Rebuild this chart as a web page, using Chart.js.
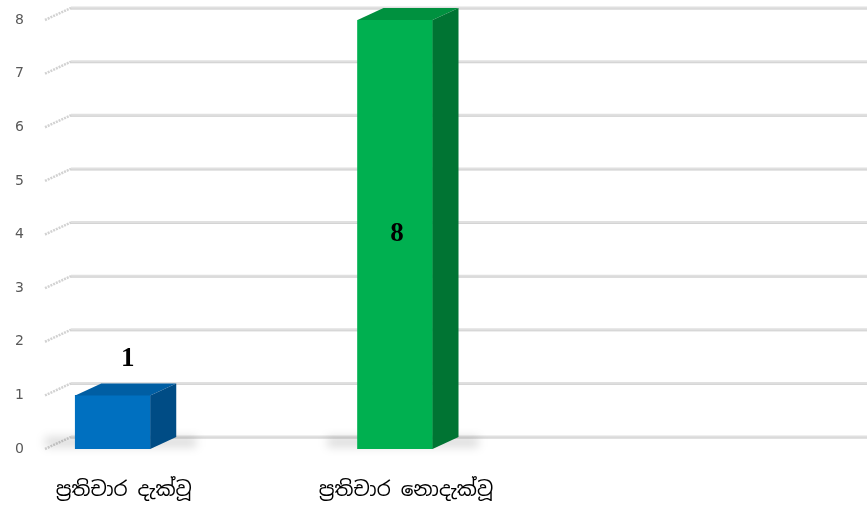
<!DOCTYPE html>
<html>
<head>
<meta charset="utf-8">
<title>ප්‍රතිචාර</title>
<script src="https://cdn.jsdelivr.net/npm/chart.js@4/dist/chart.umd.min.js"></script>
<style>
  html, body { margin: 0; padding: 0; background: #fff; }
  #wrap { width: 867px; height: 507px; }
</style>
</head>
<body>
<div id="wrap"><canvas id="responseChart"></canvas></div>
<script>
// categories and counts
const categories = ["ප්‍රතිචාර දැක්වූ", "ප්‍රතිචාර නොදැක්වූ"];
const counts = [1, 8];
const yTicks = [0, 1, 2, 3, 4, 5, 6, 7, 8];

// face colours for each bar: front, top, side
const frontColors = ["#0070c0", "#00b050"];
const topColors = ["#005ea3", "#00913f"];
const sideColors = ["#004c85", "#007433"];

// depth of the fake 3D box
const DX = 26;
const DY = -12;

// x range so the two columns sit on the left part of the floor
const X_MIN = -0.24;
const X_MAX = 2.58;

// back wall grid, diagonal floor lines and soft shadows under the bars
const backGrid = {
  id: "backGrid",
  beforeDatasetsDraw(chart) {
    const ctx = chart.ctx;
    const area = chart.chartArea;
    const yScale = chart.scales.y;
    ctx.save();
    yTicks.forEach(v => {
      const y = yScale.getPixelForValue(v);
      // back line
      ctx.strokeStyle = "#e0e0e0";
      ctx.lineWidth = 3;
      ctx.beginPath();
      ctx.moveTo(area.left + DX, y + DY);
      ctx.lineTo(chart.width, y + DY);
      ctx.stroke();
      ctx.strokeStyle = "#d4d4d4";
      ctx.lineWidth = 1;
      ctx.beginPath();
      ctx.moveTo(area.left + DX, y + DY + 1);
      ctx.lineTo(chart.width, y + DY + 1);
      ctx.stroke();
      // diagonal on the side wall
      ctx.strokeStyle = "#d2d2d2";
      ctx.lineWidth = 2.5;
      ctx.setLineDash([2, 1]);
      ctx.beginPath();
      ctx.moveTo(area.left, y);
      ctx.lineTo(area.left + DX, y + DY);
      ctx.stroke();
      ctx.setLineDash([]);
    });

    // floor shadows
    const meta = chart.getDatasetMeta(0);
    ctx.filter = "blur(5px)";
    ctx.fillStyle = "rgba(0,0,0,0.14)";
    meta.data.forEach(bar => {
      const left = bar.x - bar.width / 2;
      const right = bar.x + bar.width / 2;
      const base = bar.base;
      ctx.beginPath();
      ctx.moveTo(left - 30, base - 2);
      ctx.lineTo(right + DX + 20, base - 2);
      ctx.lineTo(right + DX + 20, base + DY);
      ctx.lineTo(left - 30, base + DY);
      ctx.closePath();
      ctx.fill();
    });
    ctx.filter = "none";
    ctx.restore();
  }
};

// top and side faces plus the value labels
const boxFaces = {
  id: "boxFaces",
  afterDatasetsDraw(chart) {
    const ctx = chart.ctx;
    const meta = chart.getDatasetMeta(0);
    ctx.save();
    meta.data.forEach((bar, i) => {
      const left = bar.x - bar.width / 2;
      const right = bar.x + bar.width / 2;
      const top = bar.y;
      const base = bar.base;

      // top face
      ctx.fillStyle = topColors[i];
      ctx.beginPath();
      ctx.moveTo(left, top);
      ctx.lineTo(left + DX, top + DY);
      ctx.lineTo(right + DX, top + DY);
      ctx.lineTo(right, top);
      ctx.closePath();
      ctx.fill();

      // side face
      ctx.fillStyle = sideColors[i];
      ctx.beginPath();
      ctx.moveTo(right, top);
      ctx.lineTo(right + DX, top + DY);
      ctx.lineTo(right + DX, base + DY);
      ctx.lineTo(right, base);
      ctx.closePath();
      ctx.fill();

      // value label: inside tall bars, above short ones
      ctx.fillStyle = "#000";
      ctx.font = "bold 27px 'Liberation Serif', 'Times New Roman', serif";
      ctx.textAlign = "center";
      ctx.textBaseline = "middle";
      const value = counts[i];
      if (base - top > 80) {
        ctx.fillText(String(value), bar.x + 2, (top + base) / 2);
      } else {
        ctx.fillText(String(value), bar.x + DX / 2 + 2, top + DY - 24);
      }
    });
    ctx.restore();
  }
};

new Chart(document.getElementById("responseChart"), {
  type: "bar",
  data: {
    datasets: [{
      label: "ප්‍රතිචාර",
      data: categories.map((c, i) => ({ x: i, y: counts[i] })),
      backgroundColor: frontColors,
      borderWidth: 0,
      barThickness: 75
    }]
  },
  options: {
    responsive: true,
    maintainAspectRatio: false,
    animation: false,
    layout: { padding: { top: 20, right: DX, left: 0, bottom: 0 } },
    plugins: {
      legend: { display: false },
      tooltip: { enabled: false }
    },
    scales: {
      x: {
        type: "linear",
        offset: false,
        bounds: "data",
        min: X_MIN,
        max: X_MAX,
        grid: { display: false, drawTicks: false, offset: false },
        border: { display: false },
        afterDataLimits(scale) {
          scale.min = X_MIN;
          scale.max = X_MAX;
        },
        afterBuildTicks(scale) {
          scale.ticks = categories.map((c, i) => ({ value: i }));
        },
        afterFit(scale) { scale.height = 58; },
        ticks: {
          autoSkip: false,
          maxRotation: 0,
          padding: 29,
          labelOffset: 11,
          color: "#000",
          font: { family: "'Noto Sans Sinhala', 'Iskoola Pota', 'Noto Sans', sans-serif", size: 20 },
          callback: v => categories[v] ?? ""
        }
      },
      y: {
        min: 0,
        max: 8,
        grid: { display: false, drawTicks: false },
        border: { display: false },
        afterFit(scale) {
          scale.width = 45;
          scale.paddingTop = 0;
          scale.paddingBottom = 0;
        },
        ticks: {
          stepSize: 1,
          padding: 21,
          color: "#595959",
          font: { family: "'DejaVu Sans', sans-serif", size: 14 }
        }
      }
    }
  },
  plugins: [backGrid, boxFaces]
});
</script>
</body>
</html>
